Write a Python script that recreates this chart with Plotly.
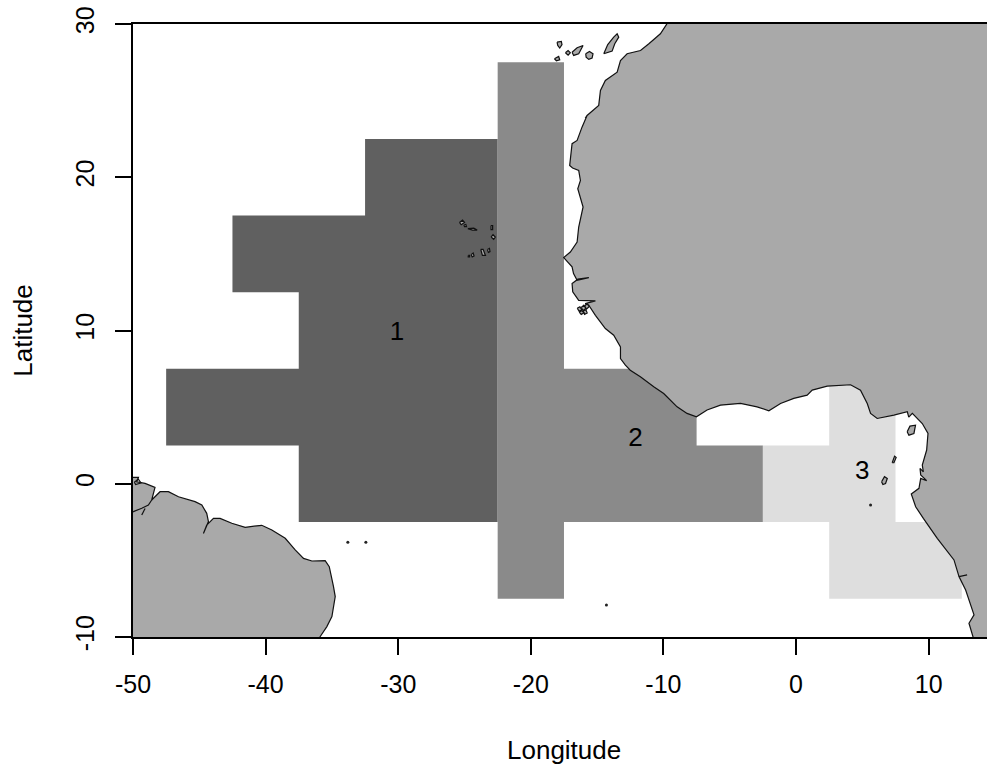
import plotly.graph_objects as go

X_TICKS = [-50, -40, -30, -20, -10, 0, 10]
X_LABELS = ["-50", "-40", "-30", "-20", "-10", "0", "10"]
Y_TICKS = [-10, 0, 10, 20, 30]
Y_LABELS = ["-10", "0", "10", "20", "30"]

AREA_LABELS = ["1", "2", "3"]
AREA_LABEL_LON = [-30.1, -12.1, 5]
AREA_LABEL_LAT = [9.8, 2.9, 0.75]

AREA1_LON = [-32.5, -22.5, -22.5, -37.5, -37.5, -47.5, -47.5, -37.5, -37.5, -42.5, -42.5, -32.5, -32.5]
AREA1_LAT = [22.5, 22.5, -2.5, -2.5, 2.5, 2.5, 7.5, 7.5, 12.5, 12.5, 17.5, 17.5, 22.5]
AREA2_LON = [-22.5, -17.5, -17.5, -7.5, -7.5, -2.5, -2.5, -17.5, -17.5, -22.5, -22.5]
AREA2_LAT = [27.5, 27.5, 7.5, 7.5, 2.5, 2.5, -2.5, -2.5, -7.5, -7.5, 27.5]
AREA3_LON = [-2.5, 2.5, 2.5, 7.5, 7.5, 12.5, 12.5, 2.5, 2.5, -2.5, -2.5]
AREA3_LAT = [2.5, 2.5, 7.5, 7.5, -2.5, -2.5, -7.5, -7.5, -2.5, -2.5, 2.5]

AFRICA_LON = [-9.80, -10.23, -11.10, -11.73, -12.74, -13.24, -13.49, -14.38, -14.75, -14.88, -15.76, -15.9, -15.76, -16.14,
              -16.51, -16.89, -17.07, -16.85, -16.39, -16.26, -16.46, -16.35, -16.46, -16.06, -16.39, -16.51, -17.02, -17.52,
              -16.89, -16.78, -16.51, -15.63, -16.45, -16.89, -16.84, -16.39, -15.13, -15.9, -15.63, -15.13, -14.38, -13.75, -13.24, -13.24, -12.87, -12.50,
              -11.74, -10.73, -9.98, -8.97, -8.22, -7.51, -6.71, -5.70, -4.19, -2.94, -2.05, -1.17, -0.17, 0.84, 1.22,
              2.35, 4.11, 4.86, 5.37, 5.62, 6.12, 7.38, 8.39, 8.5, 8.77, 9.52, 9.95, 9.85, 9.52, 9.6, 9.35, 9.4, 9.85, 9.4, 9.27, 8.69,
              9.02, 9.6, 10.65, 11.91, 12.29, 12.9, 12.29, 12.79, 13.42, 13.04, 13.34, 13.5, 20, 20, -9.0, -9.80]
AFRICA_LAT = [29.93, 29.36, 28.71, 28.27, 28.06, 27.62, 26.86, 26.32, 25.66, 24.69, 24.03, 23.85, 24.03, 23.27,
              22.40, 22.19, 20.77, 20.6, 20.45, 19.79, 19.25, 19.45, 19.25, 18.06, 16.75, 15.77, 15.12, 14.76,
              14.15, 13.71, 13.28, 13.45, 13.35, 13.06, 12.52, 11.97, 11.93, 11.75, 11.65, 10.99, 10.13, 9.69, 8.93, 8.17, 7.74, 7.41,
              6.98, 6.33, 5.89, 5.02, 4.59, 4.37, 4.81, 5.13, 5.24, 5.02, 4.76, 5.24, 5.57, 5.78, 6.11,
              6.37, 6.46, 6.11, 5.24, 4.59, 4.26, 4.48, 4.70, 4.35, 4.59, 3.93, 3.28, 2.20, 1.22, 0.78, 1.0, 0.57, 0.2, 0.35, -0.3, -0.67,
              -1.5, -2.26, -3.56, -4.97, -6.06, -5.95, -6.06, -6.93, -8.56, -9.10, -9.97, -11, -11, 31, 31, 29.93]

BRAZIL_LON = [-51, -49.59, -49.72, -49.09, -48.34, -48.59, -47.96, -47.33, -46.57, -45.32, -44.81, -44.44, -44.31, -44.69, -44.44,
              -43.93, -43.43, -42.55, -41.54, -40.29, -39.53, -38.52, -37.77, -37.14, -36.51, -35.51, -35.20, -34.88, -34.75,
              -35.00, -35.38, -35.88, -36.4, -51, -51]
BRAZIL_LAT = [0.42, 0.42, 0.13, 0.02, -0.24, -1.06, -0.52, -0.52, -0.85, -1.17, -1.39, -1.93, -2.47, -3.24, -2.69,
              -2.26, -2.26, -2.58, -2.84, -2.71, -3.02, -3.56, -4.32, -4.87, -5.04, -5.02, -5.41, -6.71, -7.36,
              -8.67, -9.32, -9.97, -10.7, -10.7, 0.42]

CHANNEL_LON = [-50.5, -49.97, -49.34, -48.84, -48.59, None, -49.34, -49.09, None, -49.9, -49.6, -49.4, -49.8, -49.9]
CHANNEL_LAT = [-1.95, -1.82, -1.60, -1.39, -1.06, None, -2.04, -1.61, None, 0.1, 0.3, 0.05, -0.05, 0.1]

ISLANDS_LON = [-14.50, -14.20, -13.75, -13.49, -13.37, -13.67, -13.87, -14.50, None,
               -15.86, -15.58, -15.31, -15.38, -15.63, -15.83, -15.86, None,
               -16.89, -16.51, -16.06, -16.39, -16.77, -16.89, None,
               -17.39, -17.19, -17.02, -17.19, -17.39, None,
               -18.02, -17.70, -17.65, -17.82, -17.97, -18.02, None,
               -18.22, -17.90, -17.82, -18.07, -18.22, None,
               -25.38, -25.15, -25.0, -25.25, -25.38, None,
               -25.05, -24.9, -24.85, -25.0, -25.05, None,
               -24.75, -24.3, -24.05, -24.4, -24.75, None,
               -23.0, -22.88, -22.88, -23.0, -23.0, None,
               -23.0, -22.85, -22.68, -22.8, -23.0, None,
               -23.27, -23.12, -23.08, -23.2, -23.27, None,
               -23.78, -23.6, -23.42, -23.65, -23.78, None,
               -24.5, -24.35, -24.28, -24.42, -24.5, None,
               -24.72, -24.62, -24.62, -24.72, -24.72, None,
               8.38, 8.59, 9.01, 8.89, 8.51, 8.38, None,
               6.45, 6.67, 6.88, 6.75, 6.55, 6.45, None,
               7.25, 7.43, 7.55, 7.38, 7.25, None,
               -16.5, -16.3, -16.15, -16.35, -16.5, None,
               -16.2, -16.0, -15.85, -16.05, -16.2, None,
               -15.95, -15.75, -15.6, -15.8, -15.95, None,
               -16.35, -16.15, -16.0, -16.2, -16.35, None,
               -16.05, -15.85, -15.75, -15.95, -16.05]
ISLANDS_LAT = [28.06, 28.66, 29.14, 29.36, 29.14, 28.71, 28.23, 28.06, None,
               28.06, 28.21, 28.06, 27.77, 27.69, 27.84, 28.06, None,
               28.16, 28.45, 28.60, 28.06, 27.95, 28.16, None,
               28.12, 28.27, 28.12, 27.97, 28.12, None,
               28.82, 28.86, 28.66, 28.43, 28.60, 28.82, None,
               27.73, 27.88, 27.66, 27.60, 27.73, None,
               17.05, 17.2, 17.05, 16.9, 17.05, None,
               16.88, 16.92, 16.78, 16.78, 16.88, None,
               16.65, 16.68, 16.55, 16.55, 16.65, None,
               16.85, 16.85, 16.58, 16.58, 16.85, None,
               16.1, 16.25, 16.1, 15.95, 16.1, None,
               15.28, 15.35, 15.15, 15.1, 15.28, None,
               15.3, 15.3, 14.9, 14.9, 15.3, None,
               14.95, 15.05, 14.87, 14.8, 14.95, None,
               14.9, 14.9, 14.8, 14.8, 14.9, None,
               3.39, 3.76, 3.82, 3.28, 3.17, 3.39, None,
               0.13, 0.46, 0.35, 0.02, -0.05, 0.13, None,
               1.37, 1.80, 1.72, 1.37, 1.37, None,
               11.45, 11.55, 11.35, 11.25, 11.45, None,
               11.5, 11.65, 11.45, 11.3, 11.5, None,
               11.6, 11.75, 11.55, 11.4, 11.6, None,
               11.2, 11.3, 11.15, 11.05, 11.2, None,
               11.3, 11.35, 11.15, 11.05, 11.3]

ISLET_LON = [-33.8, -32.44, -14.3, 5.62]
ISLET_LAT = [-3.82, -3.82, -7.91, -1.39]

LAND = "#a9a9a9"
EDGE = "#111111"
FONT = "Liberation Sans"
FS = 26

fig = go.Figure()


def poly(lon, lat, fill, line=None):
    fig.add_trace(go.Scatter(
        x=lon, y=lat, mode="lines", fill="toself", fillcolor=fill,
        line=dict(color=line or fill, width=1.2 if line else 0),
        hoverinfo="skip", showlegend=False,
    ))


poly(AREA1_LON, AREA1_LAT, "#606060")
poly(AREA2_LON, AREA2_LAT, "#8a8a8a")
poly(AREA3_LON, AREA3_LAT, "#dedede")
poly(AFRICA_LON, AFRICA_LAT, LAND, EDGE)
poly(BRAZIL_LON, BRAZIL_LAT, LAND, EDGE)
poly(ISLANDS_LON, ISLANDS_LAT, LAND, EDGE)
fig.add_trace(go.Scatter(x=CHANNEL_LON, y=CHANNEL_LAT, mode="lines",
                         line=dict(color=EDGE, width=1.2), showlegend=False))
fig.add_trace(go.Scatter(x=ISLET_LON, y=ISLET_LAT, mode="markers",
                         marker=dict(color="#222222", size=3), showlegend=False))
fig.add_trace(go.Scatter(x=AREA_LABEL_LON, y=AREA_LABEL_LAT, mode="text", text=AREA_LABELS,
                         textposition="middle center",
                         textfont=dict(family=FONT, size=FS, color="black"), showlegend=False))

fig.update_layout(
    width=987, height=772,
    margin=dict(l=133, r=0, t=24, b=135),
    paper_bgcolor="white", plot_bgcolor="white",
    font=dict(family=FONT, size=25, color="black"),
    showlegend=False,
    xaxis=dict(
        range=[-50, 14.4], tickmode="array", tickvals=X_TICKS, ticktext=X_LABELS,
        ticks="outside", ticklen=16, tickwidth=2, tickcolor="black",
        showline=True, linewidth=2, linecolor="black", mirror=True,
        showgrid=False, zeroline=False, ticklabelstandoff=8,
    ),
    yaxis=dict(
        range=[-10, 30], tickmode="array", tickvals=Y_TICKS, ticktext=Y_LABELS, tickangle=-90,
        ticks="outside", ticklen=16, tickwidth=2, tickcolor="black",
        showline=True, linewidth=2, linecolor="black",
        showgrid=False, zeroline=False, ticklabelstandoff=11,
        title=dict(text="Latitude", standoff=31, font=dict(family=FONT, size=FS)),
    ),
    annotations=[dict(text="Longitude", xref="paper", yref="paper", x=0.505, y=-0.1843,
                      xanchor="center", yanchor="middle", showarrow=False,
                      font=dict(family=FONT, size=FS, color="black"))],
)

fig.write_html("out.html", config={"displayModeBar": False},
               post_script="document.body.style.margin='0';")
